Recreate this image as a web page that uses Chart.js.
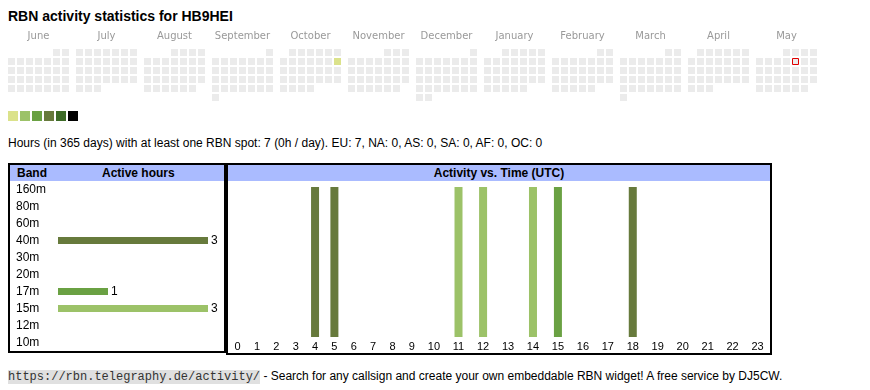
<!DOCTYPE html>
<html>
<head>
<meta charset="utf-8">
<title>RBN activity statistics for HB9HEI</title>
<script src="https://cdn.jsdelivr.net/npm/chart.js@4.4.1/dist/chart.umd.min.js"></script>
<style>
  body { margin: 0; width: 870px; height: 390px; background: #fff; color: #000;
         font-family: Arial, 'Liberation Sans', sans-serif; position: relative; overflow: hidden; }
  .abs { position: absolute; }
  #title { left: 8px; top: 8px; font-weight: bold; font-size: 14px; line-height: 16px; white-space: nowrap; }
  #cal { left: 0; top: 27px; }
  #legend { left: 8px; top: 111px; }
  #legend span { position: absolute; top: 0; width: 10px; height: 10px; }
  #summary { left: 8px; top: 136px; font-size: 12px; line-height: 14px; white-space: nowrap; }
  .box { position: absolute; border: 2px solid #000; background: #fff; }
  .head { position: absolute; left: 0; top: 0; height: 16px; background: #aabbff;
          font-weight: bold; font-size: 12px; line-height: 16px; }
  .head span { position: absolute; top: 0; }
  #bandBox { left: 8px; top: 163px; width: 214px; height: 186px; }
  #timeBox { left: 226px; top: 163px; width: 542px; height: 188px; }
  .box canvas { position: absolute; left: 0; top: 16px; }
  #footer { left: 8px; top: 369px; font-size: 12px; line-height: 14px; white-space: nowrap; }
  #footer code { font-family: 'Liberation Mono', 'Courier New', monospace; font-size: 12px;
                 background: #e0e0e0; color: #333; }
</style>
</head>
<body>
<div id="title" class="abs">RBN activity statistics for HB9HEI</div>
<canvas id="cal" class="abs" width="870" height="77"></canvas>
<div id="legend" class="abs"></div>
<div id="summary" class="abs">Hours (in 365 days) with at least one RBN spot: 7 (0h / day). EU: 7, NA: 0, AS: 0, SA: 0, AF: 0, OC: 0</div>

<div id="bandBox" class="box">
  <div class="head" style="width:214px"><span style="left:7px">Band</span><span style="left:92px">Active hours</span></div>
  <canvas id="bands" width="214" height="170"></canvas>
</div>
<div id="timeBox" class="box">
  <div class="head" style="width:542px;text-align:center">Activity vs. Time (UTC)</div>
  <canvas id="hours" width="542" height="172"></canvas>
</div>

<div id="footer" class="abs"><code>https://rbn.telegraphy.de/activity/</code> - Search for any callsign and create your own embeddable RBN widget! A free service by DJ5CW.</div>

<script>
// calendar data
const monthLabels = ['June', 'July', 'August', 'September', 'October', 'November',
                     'December', 'January', 'February', 'March', 'April', 'May'];
const firstYear = 2024;
const firstMonth = 5; // June
const activeDates = ['2024-10-13'];
const activeLevels = [1];
const todayDate = '2025-05-09';
const levelColors = ['#ebebeb', '#dbe28b', '#9cc268', '#6aa143', '#677a3c', '#3d6b27', '#000000'];

// band data
const bands = ['160m', '80m', '60m', '40m', '30m', '20m', '17m', '15m', '12m', '10m'];
const bandHours = [0, 0, 0, 3, 0, 0, 1, 3, 0, 0];
const bandColors = ['#3d6b27', '#677a3c', '#677a3c', '#677a3c', '#6aa143', '#6aa143',
                    '#6aa143', '#9cc268', '#9cc268', '#dbe28b'];

// hourly data (UTC)
const hourLabels = ['0', '1', '2', '3', '4', '5', '6', '7', '8', '9', '10', '11',
                    '12', '13', '14', '15', '16', '17', '18', '19', '20', '21', '22', '23'];
const hours40m = [0, 0, 0, 0, 1, 1, 0, 0, 0, 0, 0, 0, 0, 0, 0, 0, 0, 0, 1, 0, 0, 0, 0, 0];
const hours17m = [0, 0, 0, 0, 0, 0, 0, 0, 0, 0, 0, 0, 0, 0, 0, 1, 0, 0, 0, 0, 0, 0, 0, 0];
const hours15m = [0, 0, 0, 0, 0, 0, 0, 0, 0, 0, 0, 1, 1, 0, 1, 0, 0, 0, 0, 0, 0, 0, 0, 0];

Chart.defaults.font.family = "Arial, 'Liberation Sans', sans-serif";
Chart.defaults.font.size = 12;
Chart.defaults.color = '#000';

// legend squares
const legend = document.getElementById('legend');
levelColors.slice(1).forEach((c, i) => {
  const s = document.createElement('span');
  s.style.left = (i * 12) + 'px';
  s.style.background = c;
  legend.appendChild(s);
});

// ---- calendar heatmap ----
const CELL = 9;              // px per cell
const MONTH_SPAN = 68 / CELL; // month block width in cells
const cells = [];
monthLabels.forEach((name, m) => {
  const yr = firstYear + Math.floor((firstMonth + m) / 12);
  const mo = (firstMonth + m) % 12;
  const offset = (new Date(Date.UTC(yr, mo, 1)).getUTCDay() + 6) % 7;
  const days = new Date(Date.UTC(yr, mo + 1, 0)).getUTCDate();
  for (let d = 1; d <= days; d++) {
    const idx = offset + d - 1;
    const key = yr + '-' + String(mo + 1).padStart(2, '0') + '-' + String(d).padStart(2, '0');
    const a = activeDates.indexOf(key);
    cells.push({ x: m * MONTH_SPAN + idx % 7, y: Math.floor(idx / 7),
                 level: a < 0 ? 0 : activeLevels[a], today: key === todayDate });
  }
});

const calMin = -11.5 / CELL;
new Chart(document.getElementById('cal'), {
  type: 'scatter',
  data: {
    datasets: [{
      data: cells,
      pointStyle: 'rect',
      pointRadius: c => (c.raw && c.raw.today ? 3 : 3.5) * Math.SQRT2,
      pointBackgroundColor: c => levelColors[c.raw ? c.raw.level : 0],
      pointBorderColor: '#e00000',
      pointBorderWidth: c => (c.raw && c.raw.today ? 1 : 0)
    }]
  },
  options: {
    responsive: false,
    animation: false,
    events: [],
    layout: { autoPadding: false, padding: { top: 3, bottom: 2, left: 0, right: 0 } },
    plugins: { legend: { display: false }, tooltip: { enabled: false } },
    scales: {
      x: {
        type: 'linear', position: 'top',
        min: calMin, max: calMin + 870 / CELL,
        grid: { display: false, drawTicks: false },
        border: { display: false },
        afterBuildTicks: ax => { ax.ticks = monthLabels.map((_, m) => ({ value: m * MONTH_SPAN + 3 })); },
        afterFit: s => { s.height = 18; s.paddingLeft = 0; s.paddingRight = 0; },
        ticks: {
          autoSkip: false, maxRotation: 0, padding: 6, color: '#999',
          font: { family: "'DejaVu Sans', sans-serif", size: 10 },
          callback: (v, i) => monthLabels[i]
        }
      },
      y: { type: 'linear', display: false, reverse: true, min: -0.5, max: 5.5 }
    }
  }
});

// ---- active hours per band ----
const valueLabels = {
  id: 'valueLabels',
  afterDatasetsDraw(chart) {
    const ctx = chart.ctx;
    ctx.save();
    ctx.font = "12px Arial, 'Liberation Sans', sans-serif";
    ctx.fillStyle = '#000';
    ctx.textBaseline = 'middle';
    chart.getDatasetMeta(0).data.forEach((bar, i) => {
      const v = chart.data.datasets[0].data[i];
      if (v > 0) ctx.fillText(v, bar.x + 3, bar.y);
    });
    ctx.restore();
  }
};

new Chart(document.getElementById('bands'), {
  type: 'bar',
  data: {
    labels: bands,
    datasets: [{ data: bandHours, backgroundColor: bandColors, barThickness: 7,
                 borderWidth: 0, inflateAmount: 0 }]
  },
  options: {
    indexAxis: 'y',
    responsive: false,
    animation: false,
    events: [],
    layout: { autoPadding: false, padding: { left: 6, right: 16, top: 0, bottom: 0 } },
    plugins: { legend: { display: false }, tooltip: { enabled: false } },
    scales: {
      x: { display: false, min: 0, max: Math.max(...bandHours) },
      y: {
        grid: { display: false, drawTicks: false },
        border: { display: false },
        afterFit: s => { s.width = 42; s.paddingTop = 0; s.paddingBottom = 0; },
        ticks: { autoSkip: false, crossAlign: 'far', padding: 0, color: '#000', font: { size: 12 } }
      }
    }
  },
  plugins: [valueLabels]
});

// ---- activity vs time ----
// column widths follow the width of each hour label, like the table cells do
const measure = document.createElement('canvas').getContext('2d');
measure.font = "11px Arial, 'Liberation Sans', sans-serif";
const colCenters = [];
let colTotal = 0;
hourLabels.forEach(l => {
  const w = measure.measureText(l).width + 15;
  colCenters.push(colTotal + w / 2);
  colTotal += w;
});

const timeSeries = [
  { values: hours40m, color: '#677a3c' },
  { values: hours17m, color: '#6aa143' },
  { values: hours15m, color: '#9cc268' }
];

new Chart(document.getElementById('hours'), {
  type: 'bar',
  data: {
    datasets: timeSeries.map(s => ({
      data: s.values.map((v, h) => ({ x: colCenters[h], y: v })),
      backgroundColor: s.color,
      barThickness: 8,
      borderWidth: 0,
      inflateAmount: 0
    }))
  },
  options: {
    responsive: false,
    animation: false,
    events: [],
    layout: { autoPadding: false, padding: { top: 6, bottom: 0, left: 0, right: 0 } },
    plugins: { legend: { display: false }, tooltip: { enabled: false } },
    scales: {
      x: {
        type: 'linear', min: 0, max: colTotal, offset: false, stacked: true,
        grid: { display: false, drawTicks: false },
        border: { display: false },
        afterBuildTicks: ax => { ax.ticks = colCenters.map(v => ({ value: v })); },
        afterFit: s => { s.height = 16; s.paddingLeft = 0; s.paddingRight = 0; },
        ticks: {
          autoSkip: false, maxRotation: 0, padding: 3, color: '#000',
          font: { size: 11 },
          callback: (v, i) => hourLabels[i]
        }
      },
      y: { display: false, stacked: true, min: 0, max: 1 }
    }
  }
});
</script>
</body>
</html>
